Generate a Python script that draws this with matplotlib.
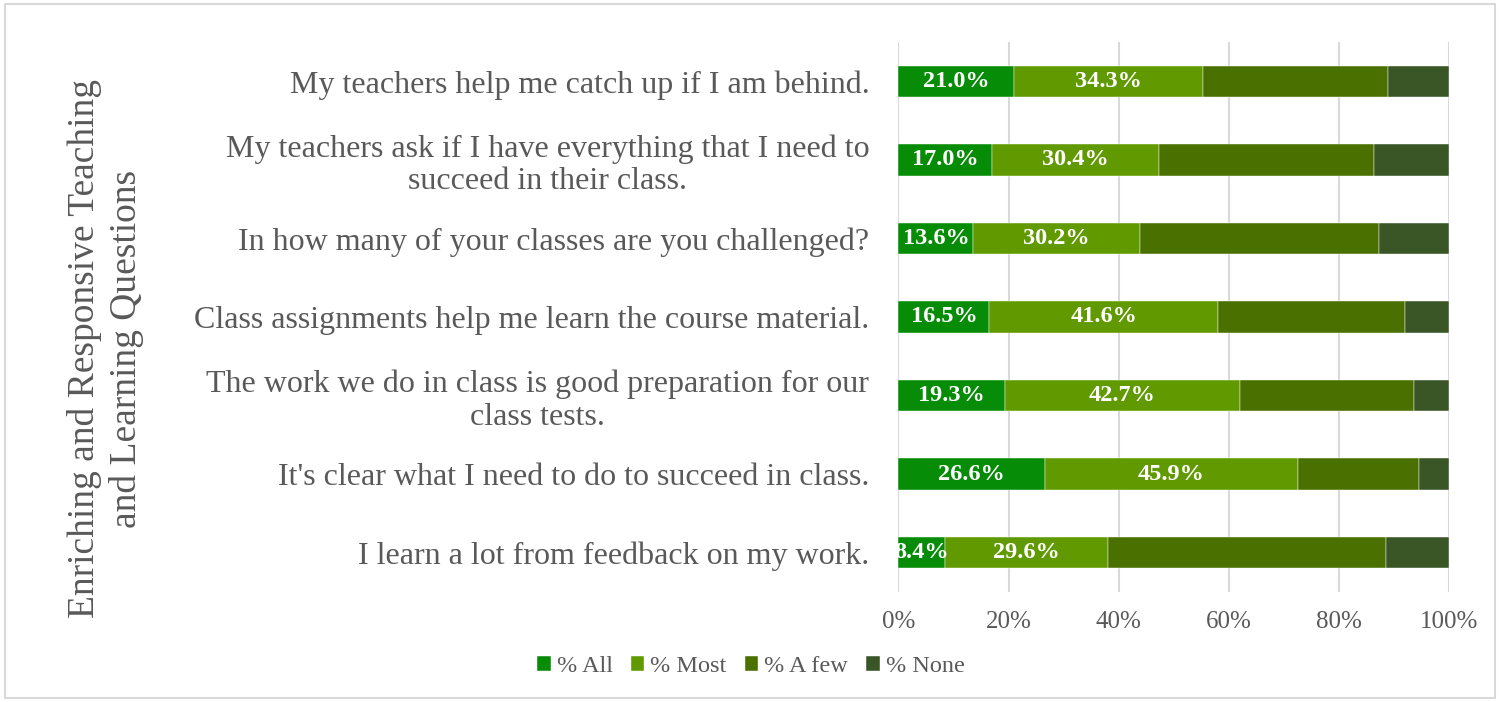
import matplotlib.pyplot as plt
import numpy as np
from matplotlib.patches import Rectangle

plt.rcParams['font.family'] = ['Liberation Serif', 'DejaVu Serif']

# rows listed top to bottom as in the chart
questions = [
    "My teachers help me catch up if I am behind.",
    "My teachers ask if I have everything that I need to\nsucceed in their class.",
    "In how many of your classes are you challenged?",
    "Class assignments help me learn the course material.",
    "The work we do in class is good preparation for our\nclass tests.",
    "It's clear what I need to do to succeed in class.",
    "I learn a lot from feedback on my work.",
]
pct_all = [21.0, 17.0, 13.6, 16.5, 19.3, 26.6, 8.4]
pct_most = [34.3, 30.4, 30.2, 41.6, 42.7, 45.9, 29.6]
pct_few = [33.6, 38.9, 43.4, 33.9, 31.6, 22.0, 50.5]
pct_none = [11.1, 13.7, 12.8, 8.0, 6.4, 5.5, 11.5]

series = ["% All", "% Most", "% A few", "% None"]
colors = ["#078C07", "#619A00", "#4A7000", "#3A5626"]
labelled = [True, True, False, False]
ytitle = "Enriching and Responsive Teaching\nand Learning Questions"

text_col = "#595959"

fig = plt.figure(figsize=(15.02, 7.02), dpi=100)
fig.patches.append(Rectangle((0.0035, 0.006), 0.992, 0.988, transform=fig.transFigure,
                             fill=False, edgecolor="#D9D9D9", linewidth=1.5))
ax = fig.add_axes([0.5982, 0.1567, 0.3665, 0.7835])

y = np.arange(len(questions))
left = np.zeros(len(questions))
for vals, name, col, lab in zip([pct_all, pct_most, pct_few, pct_none], series, colors, labelled):
    vals = np.array(vals)
    ax.barh(y, vals, left=left, height=0.4, color=col, label=name,
            edgecolor="#FFFFFF", linewidth=0.3, zorder=3)
    if lab:
        for yi, l, v in zip(y, left, vals):
            ax.text(l + v / 2, yi, f"{v:.1f}%", ha="center", va="center",
                    color="white", fontsize=17.5, fontweight="bold", zorder=4, clip_on=True)
    left += vals

ax.set_xlim(0, 100)
ax.set_ylim(len(questions) - 0.5, -0.5)
ax.set_xticks(np.arange(0, 101, 20))
ax.set_xticklabels([f"{t}%" for t in range(0, 101, 20)])
ax.set_yticks(y)
ax.set_yticklabels(questions, multialignment="center", linespacing=1.15)
ax.tick_params(axis="both", length=0, colors=text_col, labelsize=18)
ax.tick_params(axis="y", labelsize=23, pad=21)
ax.tick_params(axis="x", pad=14)
ax.grid(axis="x", color="#D9D9D9", linewidth=1.5, zorder=0)
for s in ax.spines.values():
    s.set_visible(False)

fig.text(0.07, 0.503, ytitle, rotation=90, ha="center", va="center",
         multialignment="center", fontsize=27, color=text_col, linespacing=1.25)

ax.legend(loc="center", bbox_to_anchor=(0.5, 0.05), bbox_transform=fig.transFigure,
          ncol=4, frameon=False, fontsize=17.5, handlelength=0.55, handleheight=0.55,
          handletextpad=0.25, columnspacing=0.75, labelcolor=text_col)

fig.savefig("out.png", dpi=100)
